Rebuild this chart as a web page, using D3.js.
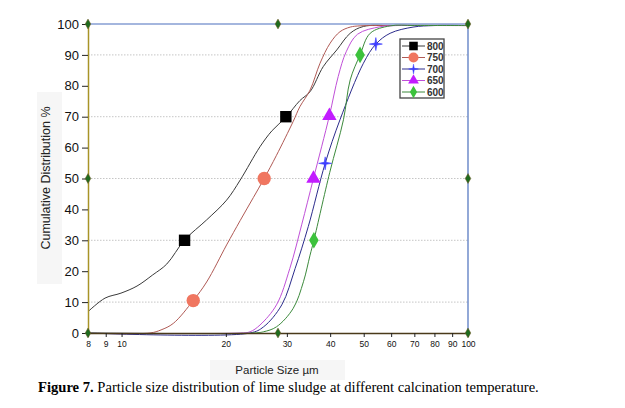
<!DOCTYPE html>
<html>
<head>
<meta charset="utf-8">
<script src="https://cdn.jsdelivr.net/npm/d3@7"></script>
<style>
  body { margin: 0; background: #fff; }
  svg { display: block; }
</style>
</head>
<body>
<div id="chart"></div>
<script>
// particle size (um) / cumulative %
const sizes800 = [8, 8.96, 9.96, 11.08, 12.3, 13.5, 15.2, 17.6, 20.1, 22.0, 25.1, 27.2, 29.8, 32.7, 35.0, 38.2, 41.8, 45.7, 49.9, 60, 100];
const cum800   = [6.9, 11.3, 12.9, 15.2, 18.8, 22.3, 30.1, 36.6, 43.0, 49.5, 60.3, 65.5, 69.8, 75.2, 78.1, 86.2, 91.6, 97.0, 99.2, 99.5, 99.5];
const sizes750 = [8, 12.08, 13.0, 14.1, 16.1, 17.6, 20.1, 22.0, 24.0, 25.8, 28.0, 31.3, 32.7, 35.0, 37.4, 40.0, 42.7, 45.7, 48.8, 60, 100];
const cum750   = [0, 0, 1.0, 3.1, 10.5, 16.5, 28.5, 36.4, 43.8, 50.0, 57.5, 68.5, 73.2, 78.6, 87.3, 93.8, 97.5, 99.0, 99.4, 99.5, 99.5];
const sizes700 = [8, 23.5, 25.7, 29.0, 31.7, 34.6, 38.7, 42.7, 49.9, 54.2, 59.6, 69.4, 80, 100];
const cum700   = [0, 0, 2.0, 9.1, 20.9, 34.5, 54.9, 69.0, 87.3, 93.5, 97.0, 99.0, 99.5, 99.5];
const sizes650 = [8, 22.0, 23.5, 25.1, 28.0, 30.6, 33.1, 35.8, 39.8, 42.2, 44.5, 48.0, 55.7, 62.3, 75, 100];
const cum650   = [0, 0, 0.4, 2.6, 9.1, 20.9, 35.0, 50.0, 70.3, 83.0, 91.0, 96.7, 99.1, 99.5, 99.5, 99.5];
const sizes600 = [8, 24.0, 25.7, 28.0, 31.3, 33.5, 35.0, 35.9, 39.9, 43.7, 45.7, 48.8, 52.2, 59.6, 70, 100];
const cum600   = [0, 0, 0.4, 2.0, 8.0, 16.6, 25.2, 30.0, 52.0, 69.0, 81.9, 90.0, 97.0, 99.4, 99.5, 99.5];

// points carrying a marker symbol
const marks800 = [[15.2, 30], [29.8, 70]];
const marks750 = [[16.1, 10.5], [25.8, 50]];
const marks700 = [[38.7, 54.9], [54.2, 93.5]];
const marks650 = [[35.8, 50], [39.8, 70.3]];
const marks600 = [[35.9, 30], [48.8, 90]];

const seriesNames = ['800', '750', '700', '650', '600'];
const xTicks = [8, 9, 10, 20, 30, 40, 50, 60, 70, 80, 90, 100];
const yTicks = [0, 10, 20, 30, 40, 50, 60, 70, 80, 90, 100];
const gridTicks = [10, 30, 50, 70, 90];
// small anchor diamonds on the frame
const frameX = [8, 28.28, 100];
const frameY = [0, 50, 100];

const width = 625, height = 408;
const margin = { top: 24, right: 157, bottom: 75, left: 88 };
const plotW = width - margin.left - margin.right;
const plotH = height - margin.top - margin.bottom;

const star = 'M0,-6.5L1,-1L6.5,0L1,1L0,6.5L-1,1L-6.5,0L-1,-1Z';
const styles = {
  '800': { line: '#3a3a3a', fill: '#000', sym: d3.symbolSquare, size: 130 },
  '750': { line: '#b05a55', fill: '#f07660', sym: d3.symbolCircle, size: 140 },
  '700': { line: '#2c2c8c', fill: '#3c3cff', sym: null, size: 0 },
  '650': { line: '#c050d8', fill: '#c21cff', sym: d3.symbolTriangle, size: 90 },
  '600': { line: '#3c8a3c', fill: '#3cc23c', sym: d3.symbolDiamond, size: 80 }
};

const series = [
  { name: '800', xs: sizes800, ys: cum800, marks: marks800 },
  { name: '750', xs: sizes750, ys: cum750, marks: marks750 },
  { name: '700', xs: sizes700, ys: cum700, marks: marks700 },
  { name: '650', xs: sizes650, ys: cum650, marks: marks650 },
  { name: '600', xs: sizes600, ys: cum600, marks: marks600 }
];

const svg = d3.select('#chart').append('svg').attr('width', width).attr('height', height);
const g = svg.append('g').attr('transform', `translate(${margin.left},${margin.top})`);

const x = d3.scaleLog().domain([8, 100]).range([0, plotW]);
const y = d3.scaleLinear().domain([0, 100]).range([plotH, 0]);

// faint boxes behind the axis titles
svg.append('rect').attr('x', 37).attr('y', 92).attr('width', 25).attr('height', 192).attr('fill', '#f6f6f6');
svg.append('rect').attr('x', 210).attr('y', 360).attr('width', 135).attr('height', 20).attr('fill', '#f6f6f6');

// grid
g.selectAll('.grid').data(gridTicks).enter().append('line')
  .attr('x1', 0).attr('x2', plotW)
  .attr('y1', d => y(d)).attr('y2', d => y(d))
  .attr('stroke', '#b8b8b8').attr('stroke-width', 0.8).attr('stroke-dasharray', '1.5,1.5');

// frame: top and right in blue
g.append('line').attr('x1', 0).attr('x2', plotW).attr('y1', 0).attr('y2', 0).attr('stroke', '#4a6fbd').attr('stroke-width', 1.2);
g.append('line').attr('x1', plotW).attr('x2', plotW).attr('y1', 0).attr('y2', plotH).attr('stroke', '#4a6fbd').attr('stroke-width', 1.2);

// curves
const line = d3.line().x(d => x(d[0])).y(d => y(d[1])).curve(d3.curveCatmullRom.alpha(0.5));
series.forEach(s => {
  const pts = s.xs.map((v, i) => [v, s.ys[i]]);
  g.append('path').datum(pts).attr('d', line)
    .attr('fill', 'none').attr('stroke', styles[s.name].line).attr('stroke-width', 1);
});

// axes
const yAxis = g.append('g').call(d3.axisLeft(y).tickValues(yTicks).tickSize(6).tickSizeOuter(0));
yAxis.select('.domain').attr('stroke', '#a89428').attr('stroke-width', 1.5);
yAxis.selectAll('.tick line').attr('stroke', '#222');
yAxis.selectAll('.tick text').attr('x', -9).style('font-family', 'Arial, "Liberation Sans", sans-serif').style('font-size', '13px').attr('fill', '#111');

const xAxis = g.append('g').attr('transform', `translate(0,${plotH})`)
  .call(d3.axisBottom(x).tickValues(xTicks).tickFormat(d3.format('d')).tickSize(4).tickSizeOuter(0));
xAxis.select('.domain').attr('stroke', '#4a3a1a').attr('stroke-width', 1.5);
xAxis.selectAll('.tick line').attr('stroke', '#222');
xAxis.selectAll('.tick text').attr('y', 8).style('font-family', 'Arial, "Liberation Sans", sans-serif').style('font-size', '8.5px').attr('fill', '#111');

// frame anchor diamonds
const anchors = [];
frameX.forEach(fx => frameY.forEach(fy => { if (!(fx === 28.28 && fy === 50)) anchors.push([fx, fy]); }));
g.selectAll('.anchor').data(anchors).enter().append('path')
  .attr('transform', d => `translate(${x(d[0])},${y(d[1])})`)
  .attr('d', d3.symbol().type(d3.symbolDiamond).size(28))
  .attr('fill', '#1f6b1f').attr('stroke', '#7a5a2a').attr('stroke-width', 0.5);

// markers
function drawMarker(sel, name) {
  const st = styles[name];
  if (name === '700') {
    sel.append('path').attr('d', star).attr('fill', st.fill).attr('stroke', st.fill).attr('stroke-width', 0.6);
  } else {
    sel.append('path').attr('d', d3.symbol().type(st.sym).size(st.size)).attr('fill', st.fill);
  }
}
series.forEach(s => {
  s.marks.forEach(m => {
    const mg = g.append('g').attr('transform', `translate(${x(m[0])},${y(m[1])})`);
    drawMarker(mg, s.name);
  });
});

// legend
const lg = svg.append('g').attr('transform', 'translate(400,39)');
lg.append('rect').attr('x', 0).attr('y', 0).attr('width', 44).attr('height', 59)
  .attr('fill', '#fff').attr('stroke', '#444').attr('stroke-width', 1.3);
seriesNames.forEach((name, i) => {
  const row = lg.append('g').attr('transform', `translate(0,${7 + i * 11.5})`);
  row.append('line').attr('x1', 2).attr('x2', 25).attr('y1', 0).attr('y2', 0)
    .attr('stroke', styles[name].line).attr('stroke-width', 1);
  const mg = row.append('g').attr('transform', 'translate(13.5,0) scale(0.75)');
  drawMarker(mg, name);
  row.append('text').attr('x', 27).attr('y', 3.5).text(name)
    .style('font-family', 'Arial, "Liberation Sans", sans-serif').style('font-size', '10px')
    .style('font-weight', 'bold').attr('fill', '#333');
});

// titles
svg.append('text').attr('transform', 'translate(50,178) rotate(-90)').attr('text-anchor', 'middle')
  .style('font-family', 'Arial, "Liberation Sans", sans-serif').style('font-size', '12.5px').attr('fill', '#222')
  .text('Cumulative Distribution %');
svg.append('text').attr('x', 277).attr('y', 374).attr('text-anchor', 'middle')
  .style('font-family', 'Arial, "Liberation Sans", sans-serif').style('font-size', '11.5px').attr('fill', '#222')
  .text('Particle Size \u00b5m');

const cap = svg.append('text').attr('x', 38).attr('y', 392)
  .style('font-family', '"Times New Roman", "Liberation Serif", serif').style('font-size', '14.6px').attr('fill', '#000');
cap.append('tspan').style('font-weight', 'bold').text('Figure 7.');
cap.append('tspan').text(' Particle size distribution of lime sludge at different calcination temperature.');
</script>
</body>
</html>
